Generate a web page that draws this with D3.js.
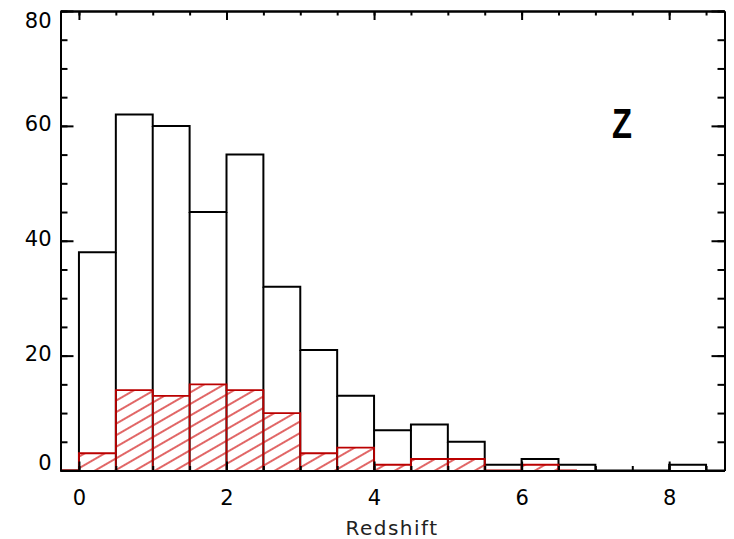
<!DOCTYPE html>
<html>
<head>
<meta charset="utf-8">
<script src="https://cdn.jsdelivr.net/npm/d3@7"></script>
<style>
  body { margin: 0; background: #fff; }
  .axis text { font-family: "DejaVu Sans", sans-serif; font-size: 21px; fill: #000; }
  .axis path, .axis line { stroke: #000; stroke-width: 2; }
</style>
</head>
<body>
<div id="main-view"></div>
<script>
// bin centres (width 0.5), padded with an empty bin at each end like IDL psym=10
var binCenters = [-0.25, 0.25, 0.75, 1.25, 1.75, 2.25, 2.75, 3.25, 3.75, 4.25,
                  4.75, 5.25, 5.75, 6.25, 6.75, 7.25, 7.75, 8.25, 8.75];
var allCounts = [0, 38, 62, 60, 45, 55, 32, 21, 13, 7, 8, 5, 1, 2, 1, 0, 0, 1, 0];
var redCounts = [0, 3, 14, 13, 15, 14, 10, 3, 4, 1, 2, 2, 0, 1, 0];
var xMajor = [0, 2, 4, 6, 8];
var yMajor = [0, 20, 40, 60, 80];
var xLabel = "Redshift";
var panelLabel = "Z";

var width = 734, height = 539;
var plotLeft = 60.5, plotRight = 724.5, plotTop = 11, plotBottom = 470.5;

var svg = d3.select("#main-view").append("svg")
  .attr("width", width)
  .attr("height", height);

var x = d3.scaleLinear().domain([-0.25, 8.75]).range([plotLeft, plotRight]);
var y = d3.scaleLinear().domain([0, 80]).range([plotBottom, plotTop]);

// hatch pattern for the red histogram
var defs = svg.append("defs");
defs.append("pattern")
  .attr("id", "hatch")
  .attr("patternUnits", "userSpaceOnUse")
  .attr("width", 10).attr("height", 10)
  .attr("patternTransform", "rotate(-30)")
  .append("line")
  .attr("x1", 0).attr("y1", 5).attr("x2", 10).attr("y2", 5)
  .attr("stroke", "#cc0000").attr("stroke-width", 1.2);

var step = d3.line()
  .x(function(d) { return x(d[0]); })
  .y(function(d) { return y(d[1]); })
  .curve(d3.curveStep);

var area = d3.area()
  .x(function(d) { return x(d[0]); })
  .y0(y(0))
  .y1(function(d) { return y(d[1]); })
  .curve(d3.curveStep);

var allData = binCenters.map(function(c, i) { return [c, allCounts[i]]; });
var redData = redCounts.map(function(v, i) { return [binCenters[i], v]; });

// black outline of the full sample, with bar edges down to zero
svg.append("path")
  .attr("d", step(allData))
  .attr("fill", "none")
  .attr("stroke", "#000")
  .attr("stroke-width", 2);
svg.selectAll(".edge")
  .data(allData.slice(1))
  .enter().append("line")
  .attr("class", "edge")
  .attr("x1", function(d) { return x(d[0] - 0.25); })
  .attr("x2", function(d) { return x(d[0] - 0.25); })
  .attr("y1", y(0))
  .attr("y2", function(d, i) { return y(Math.min(d[1], allData[i][1])); })
  .attr("stroke", "#000")
  .attr("stroke-width", 2);

// red hatched subsample
svg.append("path")
  .attr("d", area(redData))
  .attr("fill", "url(#hatch)");
svg.selectAll(".redge")
  .data(redData.slice(1))
  .enter().append("line")
  .attr("class", "redge")
  .attr("x1", function(d) { return x(d[0] - 0.25); })
  .attr("x2", function(d) { return x(d[0] - 0.25); })
  .attr("y1", y(0))
  .attr("y2", function(d, i) { return y(Math.min(d[1], redData[i][1])); })
  .attr("stroke", "#bb0000")
  .attr("stroke-width", 1.5);
svg.append("path")
  .attr("d", step(redData))
  .attr("fill", "none")
  .attr("stroke", "#bb0000")
  .attr("stroke-width", 1.8);

// axes, ticks point inwards on all four sides
var halfSteps = d3.range(0, 8.75, 0.5);
var fives = d3.range(0, 81, 5);

svg.append("g").attr("class", "axis")
  .attr("transform", "translate(0," + plotBottom + ")")
  .call(d3.axisBottom(x).tickValues(halfSteps).tickSize(-4.5).tickSizeOuter(0).tickFormat(""));
var xAxis = svg.append("g").attr("class", "axis")
  .attr("transform", "translate(0," + plotBottom + ")")
  .call(d3.axisBottom(x).tickValues(xMajor).tickSize(-9).tickSizeOuter(0).tickPadding(20));

svg.append("g").attr("class", "axis")
  .attr("transform", "translate(0," + plotTop + ")")
  .call(d3.axisTop(x).tickValues(halfSteps).tickSize(-4.5).tickSizeOuter(0).tickFormat(""));
svg.append("g").attr("class", "axis")
  .attr("transform", "translate(0," + plotTop + ")")
  .call(d3.axisTop(x).tickValues(xMajor).tickSize(-9).tickSizeOuter(0).tickFormat(""));

svg.append("g").attr("class", "axis")
  .attr("transform", "translate(" + plotLeft + ",0)")
  .call(d3.axisLeft(y).tickValues(fives).tickSize(-7).tickSizeOuter(0).tickFormat(""));
var yAxis = svg.append("g").attr("class", "axis")
  .attr("transform", "translate(" + plotLeft + ",0)")
  .call(d3.axisLeft(y).tickValues(yMajor).tickSize(-13).tickSizeOuter(0).tickPadding(9));

svg.append("g").attr("class", "axis")
  .attr("transform", "translate(" + plotRight + ",0)")
  .call(d3.axisRight(y).tickValues(fives).tickSize(-7).tickSizeOuter(0).tickFormat(""));
svg.append("g").attr("class", "axis")
  .attr("transform", "translate(" + plotRight + ",0)")
  .call(d3.axisRight(y).tickValues(yMajor).tickSize(-13).tickSizeOuter(0).tickFormat(""));

// keep the end labels inside the axis range
yAxis.selectAll("text")
  .attr("dy", function(d) { return d == 0 ? "-0.05em" : (d == 80 ? "0.78em" : "0.22em"); });
xAxis.selectAll(".tick text").attr("dy", "0.7em");
svg.selectAll(".axis .domain").attr("stroke-width", 2);

svg.append("text")
  .attr("x", 392)
  .attr("y", 535)
  .attr("text-anchor", "middle")
  .attr("font-family", "DejaVu Sans, sans-serif")
  .attr("font-size", "20px")
  .attr("letter-spacing", "1.5px")
  .attr("fill", "#222")
  .text(xLabel);

svg.append("text")
  .attr("x", 612)
  .attr("y", 138)
  .attr("font-family", "Liberation Sans, Arial, sans-serif")
  .attr("font-weight", "bold")
  .attr("font-size", "42px")
  .attr("textLength", 20)
  .attr("lengthAdjust", "spacingAndGlyphs")
  .attr("fill", "#000")
  .text(panelLabel);
</script>
</body>
</html>
